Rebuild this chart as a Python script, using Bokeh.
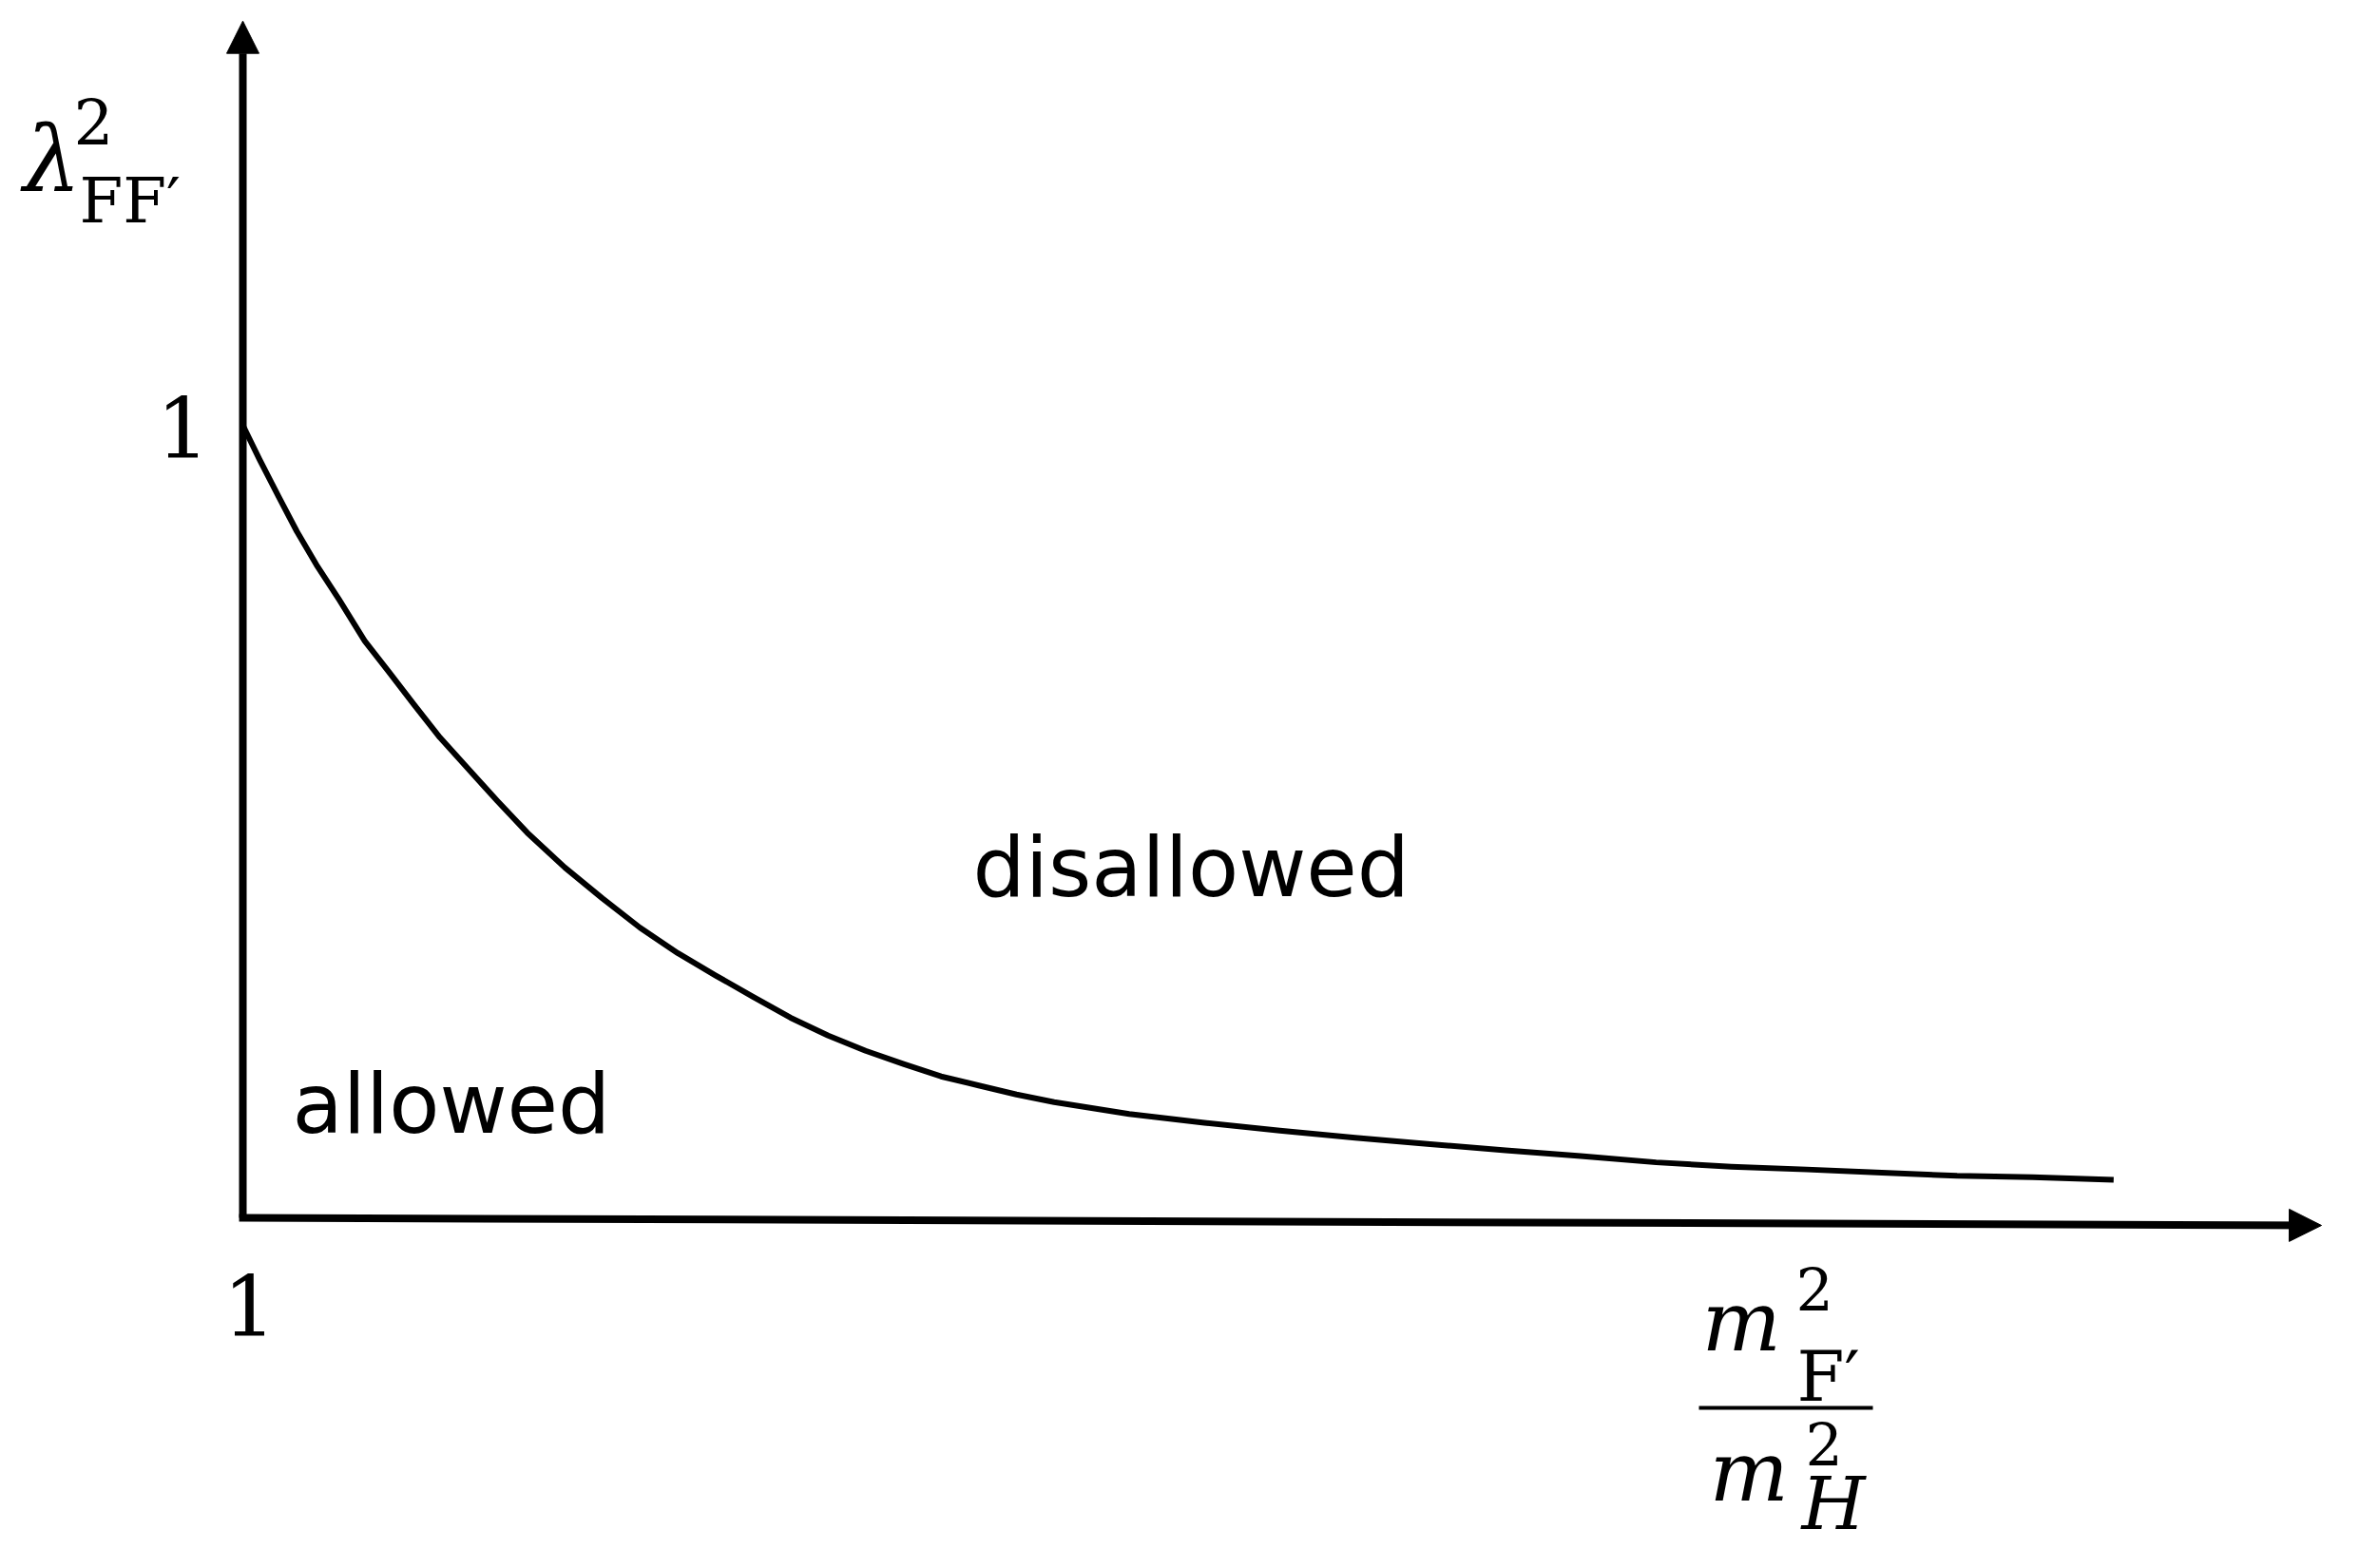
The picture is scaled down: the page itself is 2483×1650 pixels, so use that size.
from bokeh.plotting import figure
from bokeh.models import Range1d, Label, Arrow, NormalHead, BoxAnnotation
from bokeh.embed import file_html
from bokeh.resources import INLINE

# ---------------- data ----------------
mass_ratio = [1.0, 1.080, 1.174, 1.260, 1.354, 1.463, 1.586, 1.702, 1.825, 1.948,
              2.079, 2.224, 2.368, 2.549, 2.730, 2.911, 3.092, 3.273, 3.454, 3.635,
              3.816, 3.996, 4.178, 4.359, 4.540, 4.722, 4.903, 5.264, 5.626, 5.989,
              6.351, 6.712, 7.075, 7.436, 7.799, 8.161, 8.523, 8.885, 9.247, 9.609,
              10.0]
coupling = [1.0, 0.957, 0.909, 0.866, 0.824, 0.780, 0.728, 0.689, 0.647, 0.606,
            0.568, 0.526, 0.486, 0.442, 0.403, 0.366, 0.334, 0.306, 0.279, 0.2525,
            0.230, 0.2107, 0.194, 0.1784, 0.167, 0.1556, 0.146, 0.131, 0.120, 0.110,
            0.101, 0.093, 0.085, 0.078, 0.070, 0.0645, 0.061, 0.057, 0.053, 0.0512,
            0.048]

origin_x = 1.0
origin_y = 0.0
x_axis_end = 11.0
x_axis_end_y = -0.0096
y_axis_end = 1.51

x_ticks = [1.0]
x_tick_labels = ["1"]
y_ticks = [1.0]
y_tick_labels = ["1"]

region_names = ["disallowed", "allowed"]

# ---------------- figure ----------------
W, H = 2467, 1634
p = figure(width=W, height=H,
           x_range=Range1d(-0.16598, 11.1143), y_range=Range1d(-0.42326, 1.53597),
           x_axis_type=None, y_axis_type=None,
           output_backend="svg", toolbar_location=None, min_border=0)
p.grid.visible = False
p.outline_line_color = None
p.background_fill_color = "white"
p.border_fill_color = "white"

FIX = 0.34  # baseline correction (fraction of font size)

# axes as arrows
p.add_layout(Arrow(x_start=origin_x, y_start=origin_y, x_end=origin_x, y_end=y_axis_end,
                   line_width=8, line_color="black", line_cap="butt",
                   end=NormalHead(size=34, fill_color="black", line_color="black", line_width=1)))
p.add_layout(Arrow(x_start=origin_x - 0.018, y_start=origin_y, x_end=x_axis_end, y_end=x_axis_end_y,
                   line_width=8, line_color="black", line_cap="butt",
                   end=NormalHead(size=34, fill_color="black", line_color="black", line_width=1)))

# curve
p.line(mass_ratio, coupling, line_width=6, line_color="black", line_join="round")

# tick labels
for t, lab in zip(y_ticks, y_tick_labels):
    p.add_layout(Label(x=origin_x, y=t, text=lab, x_offset=-63, y_offset=-32 + FIX * 88,
                       text_align="center", text_baseline="alphabetic",
                       text_font="DejaVu Serif", text_font_size="88px", text_color="black"))
for t, lab in zip(x_ticks, x_tick_labels):
    p.add_layout(Label(x=t, y=origin_y, text=lab, x_offset=7, y_offset=-122 + FIX * 88,
                       text_align="center", text_baseline="alphabetic",
                       text_font="DejaVu Serif", text_font_size="88px", text_color="black"))

# region labels
region_pos = [(4.512, 0.4065), (1.238, 0.108)]
for name, (rx, ry) in zip(region_names, region_pos):
    p.add_layout(Label(x=rx, y=ry, text=name, y_offset=FIX * 87,
                       text_align="left", text_baseline="alphabetic",
                       text_font="DejaVu Sans", text_font_size="87px", text_color="black"))

# math labels (screen positions)
def mlabel(text, rx, ry, size, italic=False):
    p.add_layout(Label(x=rx, y=H - ry + FIX * size, x_units="screen", y_units="screen",
                       text=text, text_align="left", text_baseline="alphabetic",
                       text_font="DejaVu Serif", text_font_size=f"{size}px",
                       text_font_style="italic" if italic else "normal",
                       text_color="black"))

# y label: lambda^2_{FF'}
mlabel("λ", 24, 200, 96, italic=True)
mlabel("2", 77, 150, 66)
mlabel("FF′", 83, 233, 66)

# x label: m^2_{F'} / m^2_H
mlabel("m", 1790, 1420, 88, italic=True)
mlabel("2", 1889, 1377, 62)
mlabel("F′", 1890, 1473, 72)
p.add_layout(BoxAnnotation(left=1787, right=1970, top=H - 1479, bottom=H - 1483,
                           left_units="screen", right_units="screen",
                           top_units="screen", bottom_units="screen",
                           fill_color="black", fill_alpha=1.0, line_alpha=0))
mlabel("m", 1798, 1578, 88, italic=True)
mlabel("2", 1899, 1540, 62)
mlabel("H", 1895, 1608, 77, italic=True)

open("out.html", "w").write(file_html(p, INLINE))
